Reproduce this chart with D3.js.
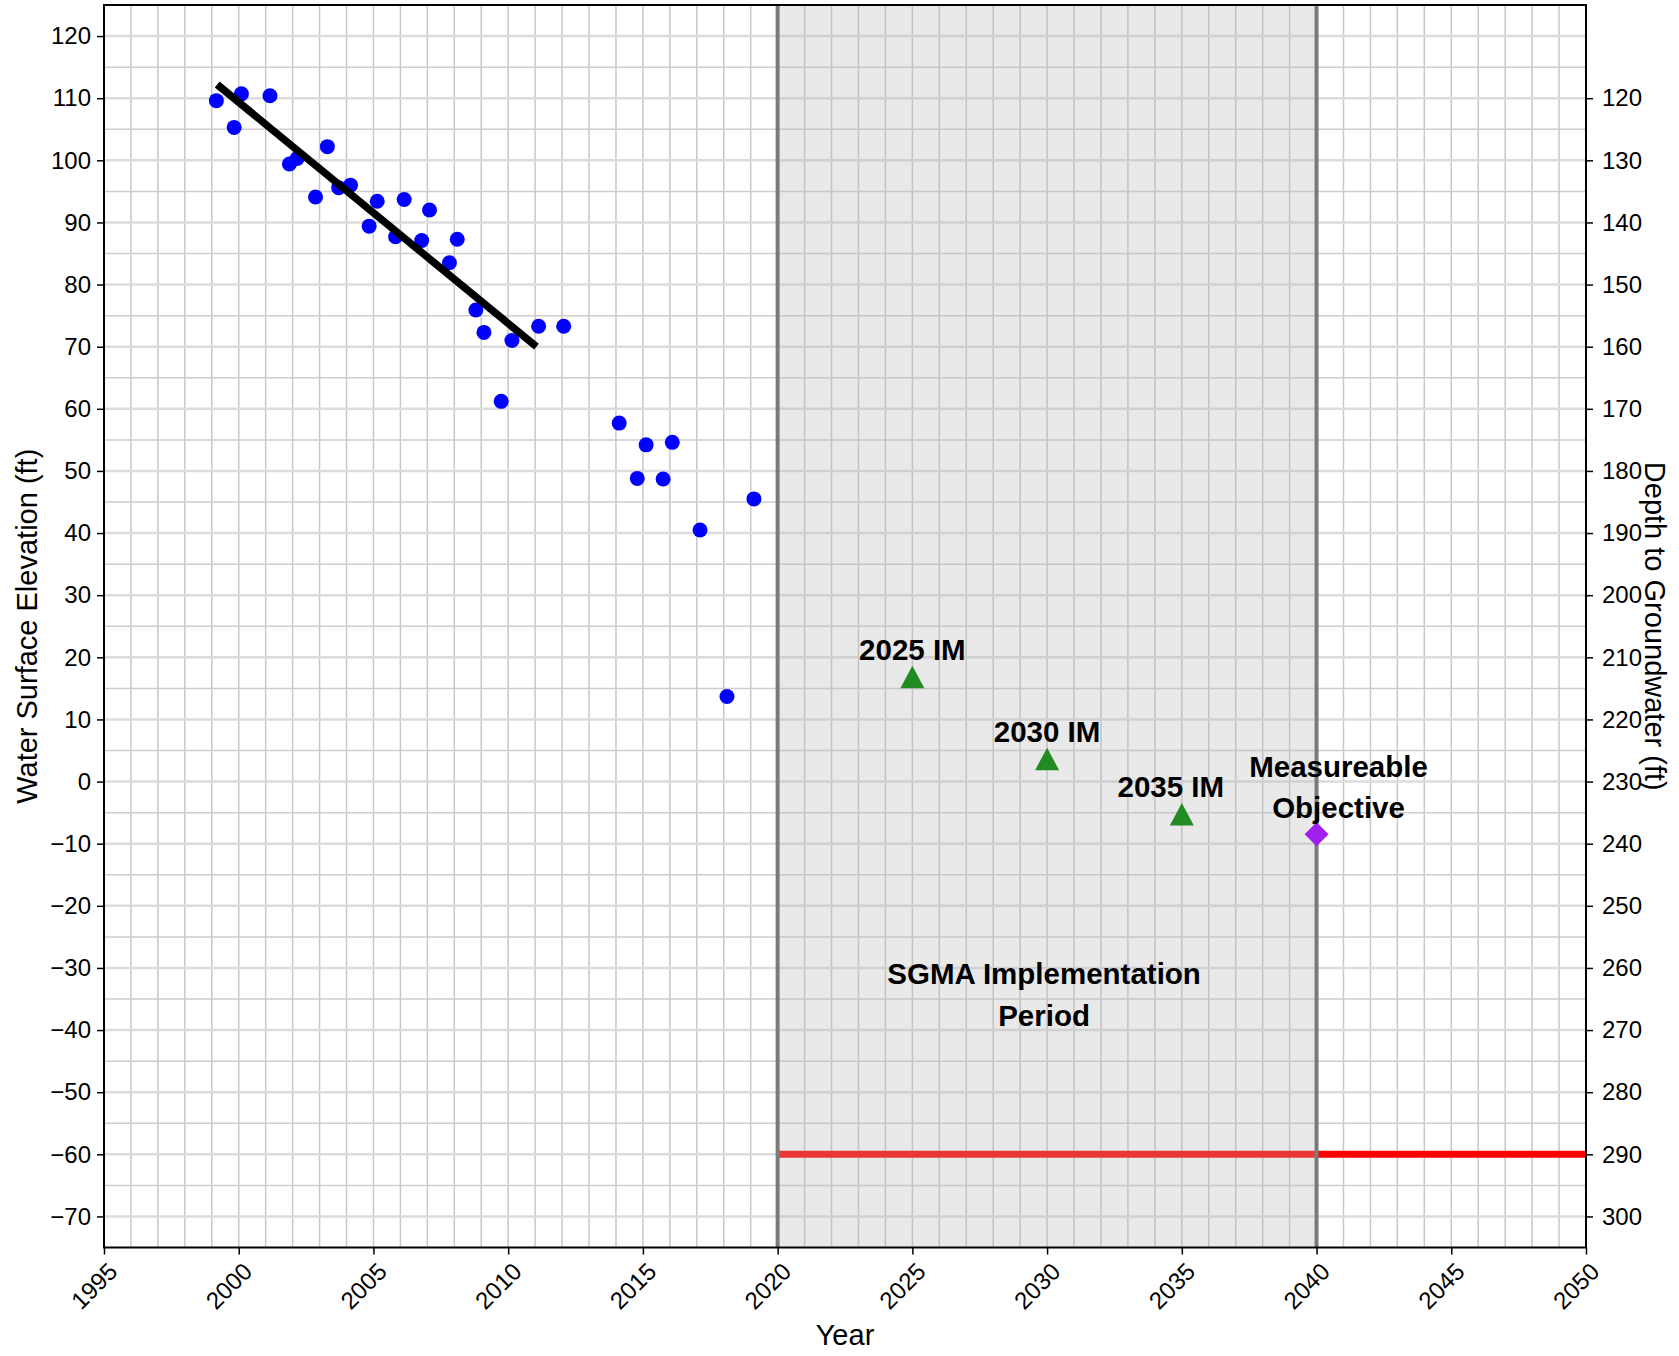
<!DOCTYPE html>
<html>
<head>
<meta charset="utf-8">
<script src="https://cdn.jsdelivr.net/npm/d3@7/dist/d3.min.js"></script>
<style>
  html, body { margin: 0; padding: 0; background: #fff; }
  svg { display: block; font-family: "Liberation Sans", Arial, sans-serif; }
</style>
</head>
<body>
<svg id="chart" width="1679" height="1356"></svg>
<script>
// Measured groundwater elevations (decimal year, ft)
const obsYears = [1999.17, 1999.83, 2000.10, 2001.16, 2001.88, 2002.17, 2002.85, 2003.29,
                  2003.71, 2004.15, 2004.84, 2005.14, 2005.82, 2006.14, 2006.79, 2007.08,
                  2007.82, 2008.11, 2008.80, 2009.10, 2009.74, 2010.14, 2011.13, 2012.06,
                  2014.12, 2014.79, 2015.12, 2015.75, 2016.09, 2017.12, 2018.12, 2019.12];
const obsElevation = [109.6, 105.3, 110.7, 110.4, 99.4, 100.3, 94.1, 102.2,
                      95.6, 96.0, 89.4, 93.4, 87.7, 93.7, 87.1, 92.0,
                      83.5, 87.3, 75.9, 72.3, 61.2, 71.0, 73.3, 73.3,
                      57.7, 48.8, 54.2, 48.7, 54.6, 40.5, 13.7, 45.5];

// Linear trend over the early record
const trendYears = [1999.2, 2011.05];
const trendElevation = [112.2, 70.0];

// Interim milestones
const imYears = [2025, 2030, 2035];
const imElevation = [16.8, 3.6, -5.3];
const imLabels = ["2025 IM", "2030 IM", "2035 IM"];

// Measurable objective
const moYear = [2040];
const moElevation = [-8.5];

// Minimum threshold
const mtYears = [2020, 2050];
const mtElevation = [-60, -60];

// SGMA implementation period
const sgmaYears = [2020, 2040];

// Axes
const xDomain = [1995, 2050];
const yDomain = [-75, 125];
const xTicks = d3.range(1995, 2051, 5);
const yTicks = d3.range(-70, 121, 10);
const depthTicks = d3.range(120, 301, 10);
const groundSurface = 230; // depth = groundSurface - elevation

const plot = { left: 104, right: 1586, top: 5, bottom: 1247.5 };

const svg = d3.select("#chart");
const x = d3.scaleLinear().domain(xDomain).range([plot.left, plot.right]);
const y = d3.scaleLinear().domain(yDomain).range([plot.bottom, plot.top]);
const yDepth = d3.scaleLinear()
  .domain([groundSurface - yDomain[0], groundSurface - yDomain[1]])
  .range([plot.bottom, plot.top]);

const fmt = d => (d < 0 ? "\u2212" : "") + Math.abs(d);

const g = svg.append("g");

// Grid: yearly verticals, 5-ft horizontals
const gridYears = d3.range(xDomain[0] + 1, xDomain[1], 1);
g.append("g").selectAll("line").data(gridYears).join("line")
  .attr("x1", d => x(d)).attr("x2", d => x(d))
  .attr("y1", plot.top).attr("y2", plot.bottom)
  .attr("stroke", "#c8c8c8").attr("stroke-width", 1.5);

const gridMinorY = d3.range(-70, 125, 5).filter(v => v % 10 !== 0);
g.append("g").selectAll("line").data(gridMinorY).join("line")
  .attr("x1", plot.left).attr("x2", plot.right)
  .attr("y1", d => y(d)).attr("y2", d => y(d))
  .attr("stroke", "#cecece").attr("stroke-width", 1.5);

g.append("g").selectAll("line").data(yTicks).join("line")
  .attr("x1", plot.left).attr("x2", plot.right)
  .attr("y1", d => y(d)).attr("y2", d => y(d))
  .attr("stroke", "#dcdcdc").attr("stroke-width", 2.5);

// Minimum threshold line
g.append("line")
  .attr("x1", x(mtYears[0])).attr("x2", x(mtYears[1]))
  .attr("y1", y(mtElevation[0])).attr("y2", y(mtElevation[1]))
  .attr("stroke", "#ff0000").attr("stroke-width", 7);

// Implementation period shading
g.append("rect")
  .attr("x", x(sgmaYears[0])).attr("width", x(sgmaYears[1]) - x(sgmaYears[0]))
  .attr("y", plot.top).attr("height", plot.bottom - plot.top)
  .attr("fill", "#b7b7b7").attr("fill-opacity", 0.3);

g.append("g").selectAll("line").data(sgmaYears).join("line")
  .attr("x1", d => x(d)).attr("x2", d => x(d))
  .attr("y1", plot.top).attr("y2", plot.bottom)
  .attr("stroke", "#7a7a7a").attr("stroke-width", 4);

// Observations
g.append("g").selectAll("circle").data(obsYears).join("circle")
  .attr("cx", d => x(d))
  .attr("cy", (d, i) => y(obsElevation[i]))
  .attr("r", 7.5)
  .attr("fill", "#0000ff");

// Trend line
g.append("line")
  .attr("x1", x(trendYears[0])).attr("y1", y(trendElevation[0]))
  .attr("x2", x(trendYears[1])).attr("y2", y(trendElevation[1]))
  .attr("stroke", "#000").attr("stroke-width", 7.5);

// Interim milestone triangles
const triangle = "M0,-11.5L12,11L-12,11Z";
g.append("g").selectAll("path").data(imYears).join("path")
  .attr("d", triangle)
  .attr("transform", (d, i) => `translate(${x(d)},${y(imElevation[i])})`)
  .attr("fill", "#228b22");

const labelSize = 29.5;
const imDx = [0, 0, -11];
g.append("g").selectAll("text").data(imYears).join("text")
  .attr("x", (d, i) => x(d) + imDx[i])
  .attr("y", (d, i) => y(imElevation[i]) - 17.5)
  .attr("text-anchor", "middle")
  .attr("font-size", labelSize).attr("font-weight", "bold")
  .text((d, i) => imLabels[i]);

// Measurable objective diamond
g.append("g").selectAll("path").data(moYear).join("path")
  .attr("d", "M0,-12L12,0L0,12L-12,0Z")
  .attr("transform", (d, i) => `translate(${x(d)},${y(moElevation[i])})`)
  .attr("fill", "#a020f0");

const moText = g.append("text")
  .attr("text-anchor", "middle")
  .attr("font-size", labelSize).attr("font-weight", "bold");
moText.append("tspan")
  .attr("x", x(moYear[0]) + 22).attr("y", y(moElevation[0]) - 57)
  .text("Measureable");
moText.append("tspan")
  .attr("x", x(moYear[0]) + 22).attr("y", y(moElevation[0]) - 16.5)
  .text("Objective");

// Period label
const sgmaMid = (sgmaYears[0] + sgmaYears[1]) / 2;
const pText = g.append("text")
  .attr("text-anchor", "middle")
  .attr("font-size", labelSize).attr("font-weight", "bold");
pText.append("tspan").attr("x", x(sgmaMid) - 3).attr("y", y(-35) - 15).text("SGMA Implementation");
pText.append("tspan").attr("x", x(sgmaMid) - 3).attr("y", y(-35) + 27).text("Period");

// Frame
g.append("rect")
  .attr("x", plot.left).attr("y", plot.top)
  .attr("width", plot.right - plot.left).attr("height", plot.bottom - plot.top)
  .attr("fill", "none").attr("stroke", "#000").attr("stroke-width", 2);

// Left axis
const axL = g.append("g").attr("transform", `translate(${plot.left},0)`)
  .call(d3.axisLeft(y).tickValues(yTicks).tickFormat(fmt).tickSize(7).tickPadding(6));
// Right axis
const axR = g.append("g").attr("transform", `translate(${plot.right},0)`)
  .call(d3.axisRight(yDepth).tickValues(depthTicks).tickFormat(fmt).tickSize(7).tickPadding(9));
// Bottom axis
const axB = g.append("g").attr("transform", `translate(0,${plot.bottom})`)
  .call(d3.axisBottom(x).tickValues(xTicks).tickFormat(d3.format("d")).tickSize(7));

[axL, axR, axB].forEach(a => {
  a.select(".domain").remove();
  a.selectAll(".tick line").attr("stroke", "#000").attr("stroke-width", 1.5);
  a.selectAll(".tick text").attr("font-size", 24).attr("fill", "#000")
    .attr("font-family", "Liberation Sans, Arial, sans-serif");
});

axB.selectAll(".tick text")
  .attr("text-anchor", "end")
  .attr("dy", null)
  .attr("y", null)
  .attr("dominant-baseline", "hanging")
  .attr("transform", "translate(2,13) rotate(-45)");

// Axis titles
const titleSize = 29;
svg.append("text")
  .attr("x", (plot.left + plot.right) / 2).attr("y", 1345)
  .attr("text-anchor", "middle").attr("font-size", titleSize)
  .text("Year");

svg.append("text")
  .attr("transform", `translate(37,${(plot.top + plot.bottom) / 2}) rotate(-90)`)
  .attr("text-anchor", "middle").attr("font-size", titleSize)
  .text("Water Surface Elevation (ft)");

svg.append("text")
  .attr("transform", `translate(1645,${(plot.top + plot.bottom) / 2}) rotate(90)`)
  .attr("text-anchor", "middle").attr("font-size", titleSize)
  .text("Depth to Groundwater (ft)");
</script>
</body>
</html>
